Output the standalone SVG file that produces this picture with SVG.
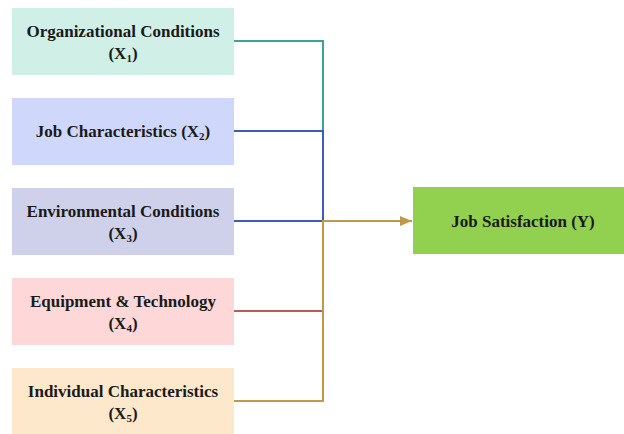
<svg xmlns="http://www.w3.org/2000/svg" width="624" height="434" viewBox="0 0 624 434">
<defs>
<style>
.t{font-family:"Liberation Serif","Times New Roman",serif;font-weight:bold;font-size:17px;fill:#1a1a1a;text-anchor:middle}
.s{font-size:11px}
.c{fill:none;stroke-width:2}
</style>
<marker id="ah" viewBox="0 0 12 10" refX="12" refY="5" markerWidth="12" markerHeight="10" markerUnits="userSpaceOnUse" orient="auto"><path d="M0,0 L12,5 L0,10 Z" fill="#c09a4a"/></marker>
</defs>
<g id="x1"><rect x="12" y="8" width="222" height="67" fill="#d0efe6"/><text class="t" x="123" y="37">Organizational Conditions</text><text class="t" x="123" y="59">(X<tspan class="s" dy="3">1</tspan><tspan dy="-3">)</tspan></text></g>
<g id="x2"><rect x="12" y="98" width="222" height="67" fill="#cfd8fb"/><text class="t" x="123" y="137">Job Characteristics (X<tspan class="s" dy="3">2</tspan><tspan dy="-3">)</tspan></text></g>
<g id="x3"><rect x="12" y="188" width="222" height="67" fill="#cfd0ea"/><text class="t" x="123" y="217">Environmental Conditions</text><text class="t" x="123" y="239">(X<tspan class="s" dy="3">3</tspan><tspan dy="-3">)</tspan></text></g>
<g id="x4"><rect x="12" y="278" width="222" height="67" fill="#fed8d8"/><text class="t" x="123" y="307">Equipment &amp; Technology</text><text class="t" x="123" y="329">(X<tspan class="s" dy="3">4</tspan><tspan dy="-3">)</tspan></text></g>
<g id="x5"><rect x="12" y="368" width="222" height="67" fill="#fde8cc"/><text class="t" x="123" y="397">Individual Characteristics</text><text class="t" x="123" y="419">(X<tspan class="s" dy="3">5</tspan><tspan dy="-3">)</tspan></text></g>
<g id="y"><rect x="413" y="187" width="211" height="67" fill="#92d050"/><text class="t" x="523" y="227">Job Satisfaction (Y)</text></g>
<g id="connectors">
<path class="c" stroke="#3aa592" d="M234,41 H323 V131"/>
<path class="c" stroke="#3b5bbf" d="M234,131 H323 V221 M234,221 H323"/>
<path class="c" stroke="#c0575a" d="M234,311 H323"/>
<path class="c" stroke="#c09a4a" d="M234,401 H323 V221 H412" marker-end="url(#ah)"/>
</g>
</svg>
